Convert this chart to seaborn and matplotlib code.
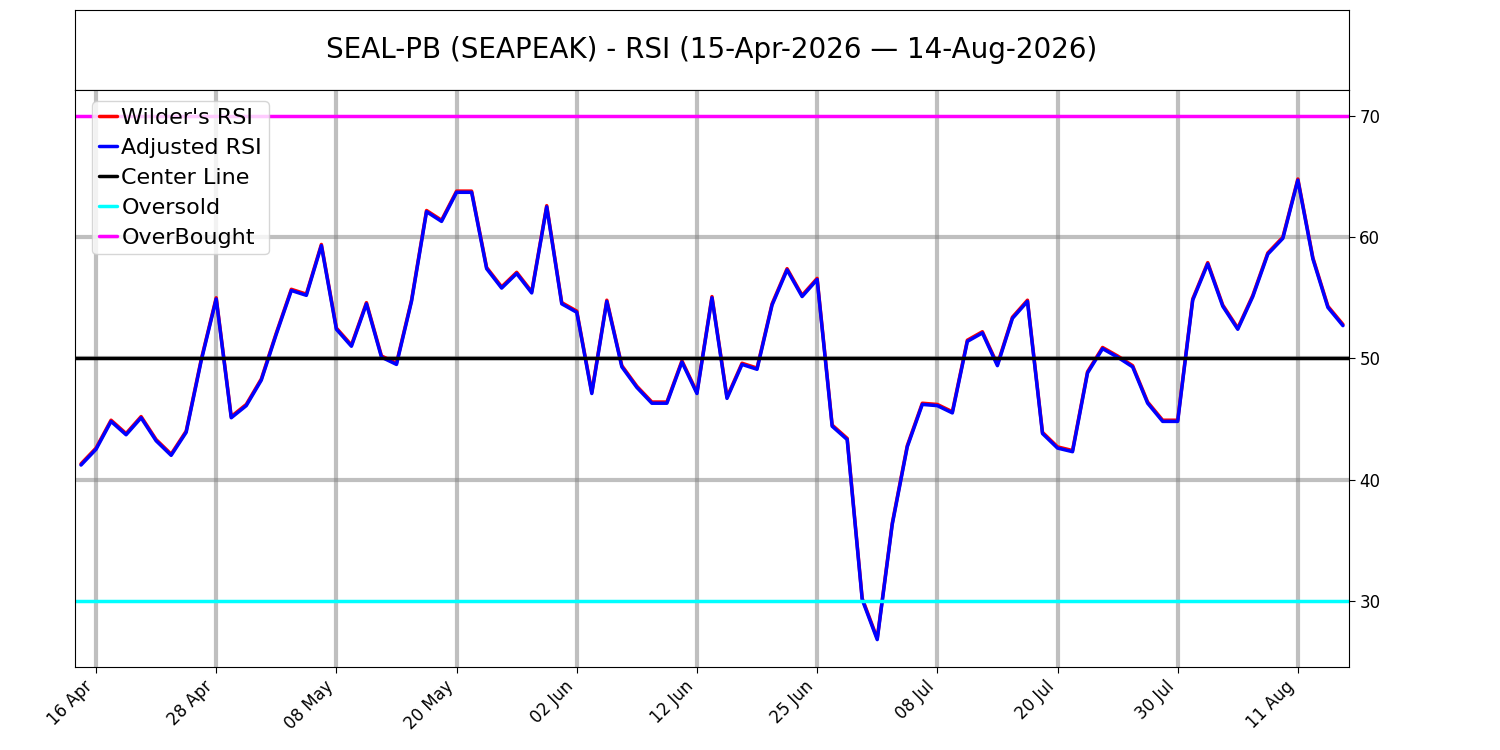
import numpy as np
import pandas as pd
import matplotlib
matplotlib.use("Agg")
import matplotlib.pyplot as plt
import seaborn as sns

# RSI values per trading day (15-Apr-2026 .. 14-Aug-2026)
rsi = [41.2, 42.5, 44.8, 43.7, 45.1, 43.2, 42.0, 43.9, 49.8, 54.9,
       45.1, 46.1, 48.2, 52.0, 55.6, 55.2, 59.3, 52.4, 51.0, 54.5,
       50.1, 49.5, 54.7, 62.1, 61.3, 63.7, 63.7, 57.4, 55.8, 57.0,
       55.4, 62.5, 54.5, 53.8, 47.1, 54.7, 49.3, 47.6, 46.3, 46.3,
       49.7, 47.1, 55.0, 46.7, 49.5, 49.1, 54.4, 57.3, 55.1, 56.5,
       44.4, 43.3, 30.1, 26.8, 36.3, 42.7, 46.2, 46.1, 45.5, 51.4,
       52.1, 49.4, 53.3, 54.7, 43.8, 42.6, 42.3, 48.8, 50.8, 50.1,
       49.3, 46.3, 44.8, 44.8, 54.8, 57.8, 54.3, 52.4, 55.1, 58.6,
       59.9, 64.7, 58.2, 54.2, 52.7]
wilder = [v + 0.1 for v in rsi]
tick_pos = [1, 9, 17, 25, 33, 41, 49, 57, 65, 73, 81]
tick_labels = ['16 Apr', '28 Apr', '08 May', '20 May', '02 Jun', '12 Jun',
               '25 Jun', '08 Jul', '20 Jul', '30 Jul', '11 Aug']

df = pd.DataFrame({'idx': np.arange(len(rsi)), 'rsi': rsi, 'wilder': wilder})

sns.set_style('white')
plt.rcParams.update({'text.color': 'black', 'xtick.color': 'black',
                     'ytick.color': 'black', 'axes.labelcolor': 'black'})
fig = plt.figure(figsize=(15, 7.5), dpi=100)
ax_t = fig.add_axes([0.05, 0.88, 0.8493, 0.107])
ax_t.set_xticks([])
ax_t.set_yticks([])
ax_t.text(0.5, 0.5, 'SEAL-PB (SEAPEAK) - RSI (15-Apr-2026 \u2014 14-Aug-2026)',
          ha='center', va='center', fontsize=20, color='black',
          transform=ax_t.transAxes)
for s in ax_t.spines.values():
    s.set_color('black')

ax = fig.add_axes([0.05, 0.111, 0.8493, 0.769])
for p in tick_pos:
    ax.axvline(p, color='gray', alpha=0.5, lw=3)
for yv in [40, 50, 60]:
    ax.axhline(yv, color='gray', alpha=0.5, lw=3)

sns.lineplot(data=df, x='idx', y='wilder', ax=ax, color='red', lw=2.5, label="Wilder's RSI")
sns.lineplot(data=df, x='idx', y='rsi', ax=ax, color='blue', lw=2.5, label='Adjusted RSI')
ax.axhline(50, color='black', lw=2.5, label='Center Line')
ax.axhline(30, color='cyan', lw=2.5, label='Oversold')
ax.axhline(70, color='magenta', lw=2.5, label='OverBought')

ax.set_xlim(-0.4, 84.4)
ax.set_ylim(24.56, 72.14)
ax.set_xticks(tick_pos)
ax.set_xticklabels(tick_labels, rotation=45, ha='right', fontsize=12)
ax.set_yticks([30, 40, 50, 60, 70])
ax.yaxis.tick_right()
ax.tick_params(axis='y', labelsize=12, length=4, right=True)
ax.tick_params(axis='x', length=4, bottom=True)
ax.set_xlabel('')
ax.set_ylabel('')
for s in ax.spines.values():
    s.set_color('black')
ax.legend(loc='upper left', fontsize=16, handlelength=0.8, handletextpad=0.2,
          borderpad=0.3, labelspacing=0.45, bbox_to_anchor=(0.005, 1.0))

fig.savefig('out.png', dpi=100)
